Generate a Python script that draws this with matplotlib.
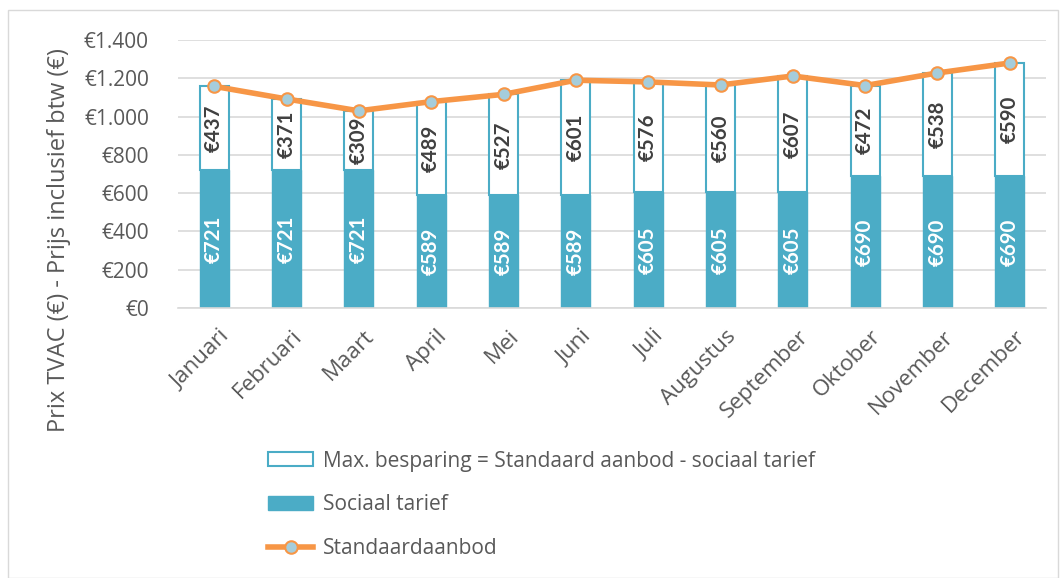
import matplotlib
matplotlib.use("Agg")
import matplotlib.pyplot as plt
from matplotlib.patches import Rectangle, Patch
from matplotlib.lines import Line2D
from matplotlib.transforms import ScaledTranslation
import numpy as np

months = ["Januari", "Februari", "Maart", "April", "Mei", "Juni", "Juli",
          "Augustus", "September", "Oktober", "November", "December"]
sociaal = [721, 721, 721, 589, 589, 589, 605, 605, 605, 690, 690, 690]
besparing = [437, 371, 309, 489, 527, 601, 576, 560, 607, 472, 538, 590]
standaard = [s + b for s, b in zip(sociaal, besparing)]
yticks = [0, 200, 400, 600, 800, 1000, 1200, 1400]
ytick_labels = ["€0", "€200", "€400", "€600", "€800", "€1.000", "€1.200", "€1.400"]
ylabel = "Prix TVAC (€) - Prijs inclusief btw (€)"
legend_labels = ["Max. besparing = Standaard aanbod - sociaal tarief", "Sociaal tarief", "Standaardaanbod"]

BLUE = "#4BACC6"
ORANGE = "#F79646"
MARK = "#A5CDDB"
TXT = "#595959"
REG = ['Open Sans', 'DejaVu Sans']
BOLD = ['Lato', 'DejaVu Sans']

plt.rcParams['font.family'] = REG

W, H = 1064, 578
fig = plt.figure(figsize=(W / 100, H / 100), dpi=100)
renderer = fig.canvas.get_renderer()


def fit_size(s, target_px, family, weight="normal"):
    t = fig.text(0, 0, s, fontsize=10, family=family, fontweight=weight)
    w = t.get_window_extent(renderer).width
    t.remove()
    return 10 * target_px / w


fs_ytick = fit_size("€1.400", 65, REG)
fs_xtick = fit_size("September", 115, REG)
fs_ylab = fit_size(ylabel, 384, REG)
fs_leg = fit_size(legend_labels[0], 494, REG)
fs_dl = fit_size("€437", 47, BOLD, "bold")

fig.patches.append(Rectangle((8 / W, 0), (1058 - 8) / W, 1 - 10 / H, transform=fig.transFigure,
                             fill=False, edgecolor="#D9D9D9", lw=1))
ax = fig.add_axes([178 / W, 1 - 308 / H, (1046 - 178) / W, 268 / H])

x = np.arange(len(months))
bw = 0.4
ax.bar(x, sociaal, bw, color=BLUE, edgecolor=BLUE, zorder=2)
ax.bar(x, besparing, bw, bottom=sociaal, color="white", edgecolor=BLUE, lw=1.5, zorder=2)
ax.plot(x, standaard, color=ORANGE, lw=4, marker="o", ms=9, mfc=MARK, mec=ORANGE, mew=1.5, zorder=4)

for i in range(len(months)):
    ax.text(x[i], sociaal[i] / 2, f"€{sociaal[i]}", rotation=90, ha="center", va="center",
            color="white", fontsize=fs_dl, fontweight="bold", family=BOLD, zorder=5)
    ax.text(x[i], sociaal[i] + besparing[i] / 2, f"€{besparing[i]}", rotation=90, ha="center",
            va="center", color="#404040", fontsize=fs_dl, fontweight="bold", family=BOLD, zorder=5)

ax.set_xlim(-0.5, len(months) - 0.5)
ax.set_ylim(0, 1400)
ax.set_yticks(yticks)
ax.set_yticklabels(ytick_labels)
ax.set_xticks(x)
ax.set_xticklabels(months, rotation=45, ha="right", rotation_mode="anchor")
ax.tick_params(axis="both", length=0, labelcolor=TXT)
ax.tick_params(axis="y", labelsize=fs_ytick, pad=29 * 0.72)
ax.tick_params(axis="x", labelsize=fs_xtick, pad=18 * 0.72)
off = ScaledTranslation(5 / 100, 0, fig.dpi_scale_trans)
for lab in ax.get_xticklabels():
    lab.set_transform(lab.get_transform() + off)
ax.grid(axis="y", color="#D9D9D9", lw=1.2, zorder=0)
ax.set_axisbelow(True)
for s in ["top", "right", "left"]:
    ax.spines[s].set_visible(False)
ax.spines["bottom"].set_color("#D9D9D9")
ax.spines["bottom"].set_linewidth(1.2)
fig.text(59 / W, 1 - 240 / H, ylabel, rotation=90, ha="center", va="center",
         color=TXT, fontsize=fs_ylab)

handles = [Patch(facecolor="white", edgecolor=BLUE, lw=1.5),
           Patch(facecolor=BLUE, edgecolor=BLUE),
           Line2D([], [], color=ORANGE, lw=4, marker="o", ms=9, mfc=MARK, mec=ORANGE, mew=1.5)]
fs_px = fs_leg * 100 / 72


def make_legend(spacing, top):
    return fig.legend(handles, legend_labels, loc="upper left", bbox_to_anchor=(268 / W, 1 - top / H),
                      frameon=False, fontsize=fs_leg, handlelength=45 / fs_px, handleheight=0.6,
                      labelspacing=spacing, handletextpad=10 / fs_px, borderpad=0, borderaxespad=0,
                      labelcolor=TXT)


def text_center(t):
    e = t.get_window_extent(renderer)
    return H - (e.y0 + e.y1) / 2


spacing, top = 1.0, 449
leg = make_legend(spacing, top)
fig.canvas.draw()
cs = [text_center(t) for t in leg.get_texts()]
spacing += (44 - (cs[2] - cs[0]) / 2) / fs_px
leg.remove()
leg = make_legend(spacing, top)
fig.canvas.draw()
top += 461 - text_center(leg.get_texts()[0])
leg.remove()
leg = make_legend(spacing, top)

fig.savefig("out.png", dpi=100)
